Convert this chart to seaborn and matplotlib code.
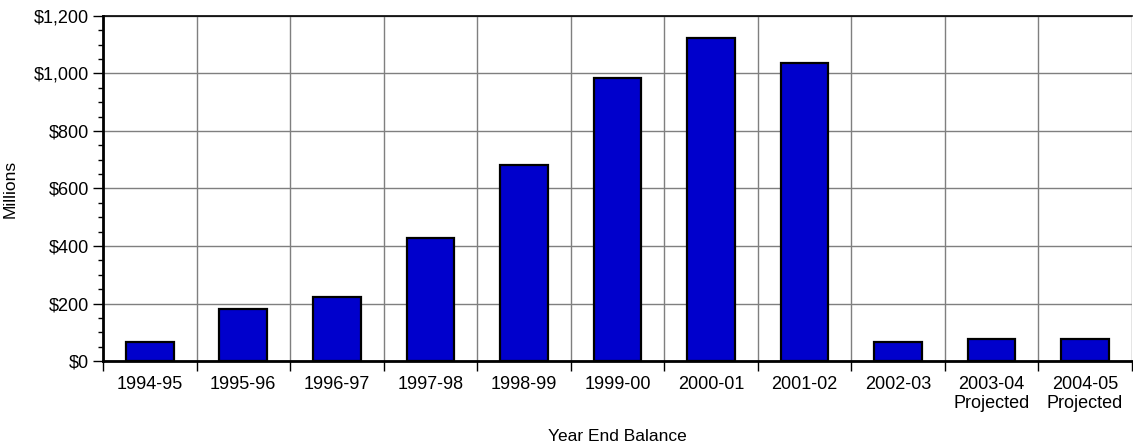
import matplotlib
matplotlib.use("Agg")
import matplotlib.pyplot as plt
from matplotlib.ticker import FuncFormatter, MultipleLocator, FixedLocator
import seaborn as sns
import pandas as pd
import numpy as np

# Year-end fund balance, in millions of dollars
years = ["1994-95", "1995-96", "1996-97", "1997-98", "1998-99", "1999-00",
         "2000-01", "2001-02", "2002-03", "2003-04\nProjected", "2004-05\nProjected"]
balance = [65, 181, 221, 429, 683, 986, 1122, 1035, 67, 78, 78]

df = pd.DataFrame({"year": years, "balance": balance})

sns.set_theme(style="white")
plt.rcParams["font.family"] = ["Liberation Sans", "DejaVu Sans"]

fig = plt.figure(figsize=(11.33, 4.45), dpi=100)
ax = fig.add_axes([103 / 1133, 1 - 361 / 445, 1 - 103 / 1133 - 0.001, (361 - 16) / 445])

sns.barplot(data=df, x="year", y="balance", color="#0000CC", saturation=1,
            edgecolor="black", linewidth=1.6, width=0.51, ax=ax, zorder=3)

n = len(years)
ax.set_xlim(-0.5, n - 0.5)
ax.set_ylim(0, 1200)

# y axis: dollar ticks with minor ticks every $50M
ax.yaxis.set_major_locator(MultipleLocator(200))
ax.yaxis.set_minor_locator(MultipleLocator(50))
ax.yaxis.set_major_formatter(FuncFormatter(lambda v, p: f"${v:,.0f}"))

# x axis: tick marks at category boundaries, labels centred under bars
ax.xaxis.set_major_locator(FixedLocator(np.arange(-0.5, n, 1.0)))
ax.xaxis.set_minor_locator(FixedLocator(np.arange(n)))
ax.set_xticklabels([""] * (n + 1))
ax.xaxis.set_minor_formatter(FuncFormatter(lambda v, p: years[int(round(v))]))

ax.tick_params(axis="both", which="major", direction="out", length=7, width=1,
               color="black", labelsize=13, labelcolor="black", bottom=True, left=True)
ax.tick_params(axis="y", which="minor", direction="out", length=3.5, width=1,
               color="black", left=True)
ax.tick_params(axis="x", which="minor", length=0, labelsize=13,
               labelcolor="black", pad=11, bottom=True)
ax.tick_params(axis="y", which="major", pad=3)

for lbl in ax.xaxis.get_minorticklabels():
    lbl.set_linespacing(1.15)

ax.grid(True, which="major", axis="both", color="#7f7f7f", linewidth=1, zorder=0)
ax.set_axisbelow(True)

for side in ["left", "bottom"]:
    ax.spines[side].set_color("black")
    ax.spines[side].set_linewidth(2)
    ax.spines[side].set_zorder(5)
ax.spines["top"].set_color("black")
ax.spines["top"].set_linewidth(1.2)
ax.spines["right"].set_visible(False)

ax.set_xlabel("Year End Balance", fontsize=12.5, color="black", labelpad=12)
ax.set_ylabel("Millions", fontsize=12.5, color="black", labelpad=12)

fig.savefig("out.png", dpi=100)
